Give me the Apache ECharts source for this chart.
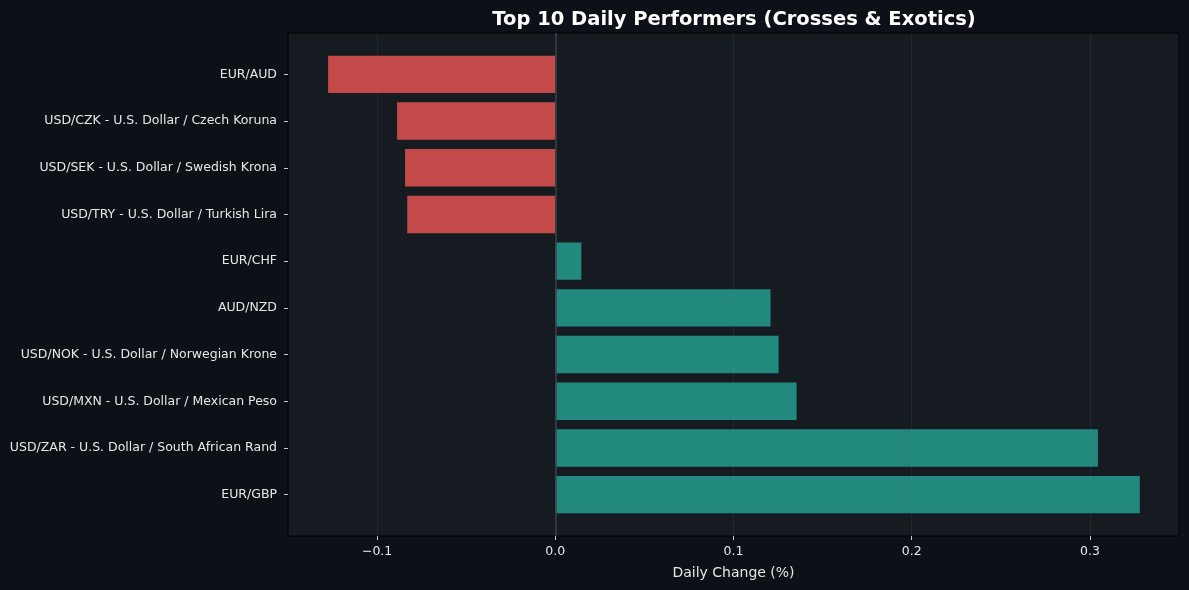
<!DOCTYPE html>
<html><head><meta charset="utf-8">
<script src="https://cdn.jsdelivr.net/npm/echarts@6/dist/echarts.min.js"></script>
<style>html,body{margin:0;padding:0;background:#0d1117;}#c{width:1189px;height:590px;}</style>
</head><body><div id="c"></div>
<script>
const categories = [
  "EUR/AUD",
  "USD/CZK - U.S. Dollar / Czech Koruna",
  "USD/SEK - U.S. Dollar / Swedish Krona",
  "USD/TRY - U.S. Dollar / Turkish Lira",
  "EUR/CHF",
  "AUD/NZD",
  "USD/NOK - U.S. Dollar / Norwegian Krone",
  "USD/MXN - U.S. Dollar / Mexican Peso",
  "USD/ZAR - U.S. Dollar / South African Rand",
  "EUR/GBP"
];
const values = [-0.1275, -0.0888, -0.0843, -0.0831, 0.0146, 0.1208, 0.1253, 0.1354, 0.3045, 0.3280];
const xTicks = [-0.1, 0.0, 0.1, 0.2, 0.3];
const xMin = -0.15, xMax = 0.35;

const UP = '#22897f', DOWN = '#c44a4a';
const font = 'DejaVu Sans';
const chart = echarts.init(document.getElementById('c'), null, {renderer: 'canvas'});
chart.setOption({
  backgroundColor: '#0d1117',
  animation: false,
  title: {
    text: 'Top 10 Daily Performers (Crosses & Exotics)',
    left: 729, top: 5, textAlign: 'center',
    textStyle: {color: '#ffffff', fontFamily: font, fontWeight: 'bold', fontSize: 19.5}
  },
  grid: [
    {left: 288, right: 10, top: 33, bottom: 54, show: true, backgroundColor: '#161b22', borderColor: '#000000', borderWidth: 1, z: 0},
    {left: 288, right: 10, top: 51, bottom: 72}
  ],
  xAxis: [
    {gridIndex: 0, type: 'value', min: xMin, max: xMax, z: 5,
     axisLine: {show: false},
     axisTick: {show: true, length: 4, customValues: xTicks, lineStyle: {color: '#cccccc'}},
     axisLabel: {customValues: xTicks, color: '#e6e6e6', fontFamily: font, fontSize: 12.5, margin: 9,
       formatter: v => (v < 0 ? '\u2212' : '') + Math.abs(v).toFixed(1)},
     splitLine: {show: false},
     name: 'Daily Change (%)', nameLocation: 'middle', nameGap: 30,
     nameTextStyle: {color: '#e6e6e6', fontFamily: font, fontSize: 14}
    },
    {gridIndex: 1, type: 'value', min: xMin, max: xMax, show: false, splitLine: {show: false}}
  ],
  yAxis: [
    {gridIndex: 0, type: 'value', min: 0, max: 1, show: false, splitLine: {show: false}},
    {gridIndex: 1, type: 'category', data: categories, inverse: true,
     axisLine: {show: false, onZero: false},
     axisTick: {show: true, length: 4, alignWithLabel: true, lineStyle: {color: '#cccccc'}},
     axisLabel: {color: '#e6e6e6', fontFamily: font, fontSize: 12.5, margin: 11},
     splitLine: {show: false}}
  ],
  series: [
    {type: 'bar', xAxisIndex: 1, yAxisIndex: 1, barWidth: '80%', z: 2,
     data: values.map(v => ({value: v, itemStyle: {color: v < 0 ? DOWN : UP}}))
    },
    {type: 'line', xAxisIndex: 0, yAxisIndex: 0, data: [], z: 4, silent: true,
     markLine: {symbol: 'none', silent: true, label: {show: false},
       data: xTicks.filter(t => t !== 0).map(t => ({xAxis: t, lineStyle: {color: 'rgba(120,140,140,0.10)', width: 1, type: 'solid'}}))
         .concat([{xAxis: 0, lineStyle: {color: '#3c4047', width: 1.5, type: 'solid'}}])}
    }
  ]
});
</script></body></html>
